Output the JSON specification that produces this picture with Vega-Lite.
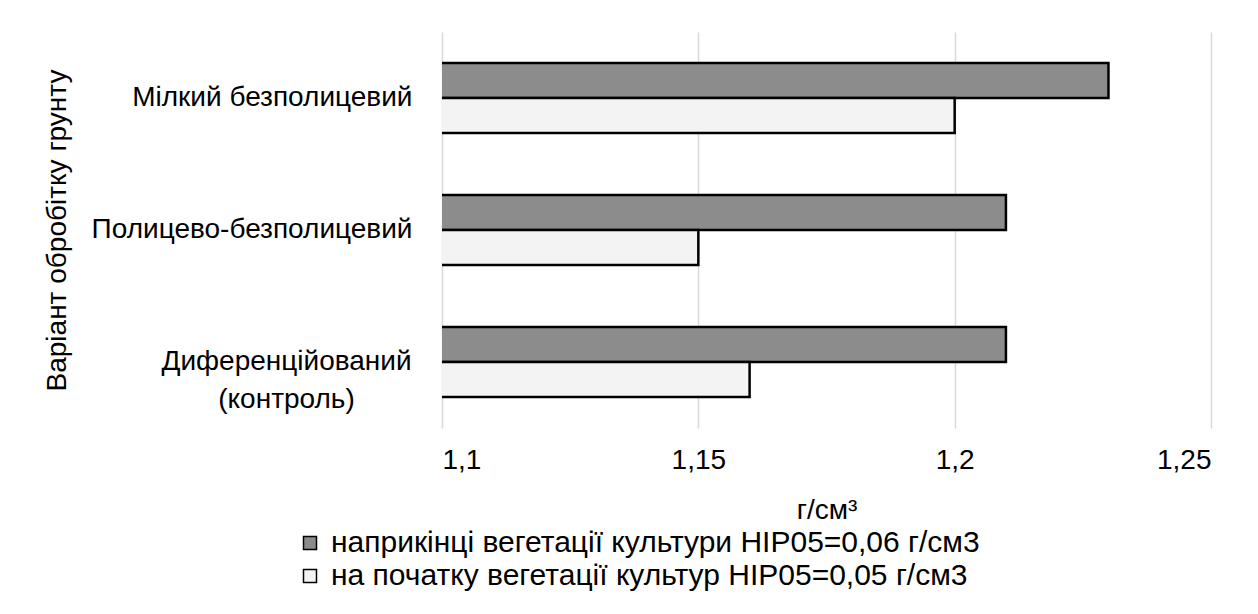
{
  "$schema": "https://vega.github.io/schema/vega-lite/v6.json",
  "width": 769,
  "height": 396,
  "autosize": {"type": "none"},
  "padding": {"left": 442, "top": 32, "right": 47, "bottom": 186},
  "background": "white",
  "config": {
    "font": "Liberation Sans",
    "view": {"stroke": null}
  },
  "data": {
    "values": [
      {"cat": "Мілкий безполицевий", "series": "наприкінці вегетації культури НІР05=0,06 г/см3", "v": 1.23},
      {"cat": "Мілкий безполицевий", "series": "на початку вегетації культур НІР05=0,05 г/см3", "v": 1.20},
      {"cat": "Полицево-безполицевий", "series": "наприкінці вегетації культури НІР05=0,06 г/см3", "v": 1.21},
      {"cat": "Полицево-безполицевий", "series": "на початку вегетації культур НІР05=0,05 г/см3", "v": 1.15},
      {"cat": "Диференційований (контроль)", "series": "наприкінці вегетації культури НІР05=0,06 г/см3", "v": 1.21},
      {"cat": "Диференційований (контроль)", "series": "на початку вегетації культур НІР05=0,05 г/см3", "v": 1.16}
    ]
  },
  "mark": {"type": "bar", "stroke": "black", "strokeWidth": 2.5, "clip": true},
  "encoding": {
    "y": {
      "field": "cat",
      "type": "nominal",
      "sort": null,
      "scale": {"paddingInner": 0.47, "paddingOuter": 0.235},
      "axis": {
        "title": "Варіант обробітку грунту",
        "titleFontSize": 28,
        "titleFontWeight": "normal",
        "titleColor": "black",
        "titleX": -385,
        "titleY": 198,
        "titleAngle": -90,
        "titleBaseline": "middle",
        "titleAlign": "center",
        "labelFontSize": 28,
        "labelColor": "black",
        "labelAlign": {"condition": {"test": "datum.value == 'Диференційований (контроль)'", "value": "center"}, "value": "right"},
        "labelPadding": {"condition": {"test": "datum.value == 'Диференційований (контроль)'", "value": 156}, "value": 30},
        "labelLimit": 500,
        "labelLineHeight": 38,
        "labelExpr": "datum.label == 'Диференційований (контроль)' ? ['Диференційований', '(контроль)'] : datum.label",
        "domain": false,
        "ticks": false
      }
    },
    "yOffset": {"field": "series", "sort": null},
    "x": {
      "field": "v",
      "type": "quantitative",
      "scale": {"domain": [1.1, 1.25], "zero": false, "nice": false},
      "axis": {
        "values": [1.1, 1.15, 1.2, 1.25],
        "labelExpr": "replace(format(datum.value, '.2~f'), '.', ',')",
        "grid": true,
        "gridColor": "#d9d9d9",
        "gridWidth": 1.5,
        "domain": false,
        "ticks": false,
        "labelFontSize": 28,
        "labelColor": "black",
        "labelPadding": 18,
        "title": "г/см³",
        "titleFontSize": 28,
        "titleFontWeight": "normal",
        "titleColor": "black",
        "titlePadding": 22
      }
    },
    "fill": {
      "field": "series",
      "type": "nominal",
      "sort": null,
      "scale": {"range": ["#8c8c8c", "#f3f3f3"]},
      "legend": {
        "title": null,
        "orient": "none",
        "legendX": -147,
        "legendY": 496,
        "direction": "vertical",
        "symbolType": "square",
        "symbolSize": 169,
        "symbolStrokeColor": "black",
        "symbolStrokeWidth": 1.5,
        "labelFontSize": 30,
        "labelColor": "black",
        "labelLimit": 900,
        "labelOffset": 6,
        "rowPadding": 3
      }
    }
  }
}
